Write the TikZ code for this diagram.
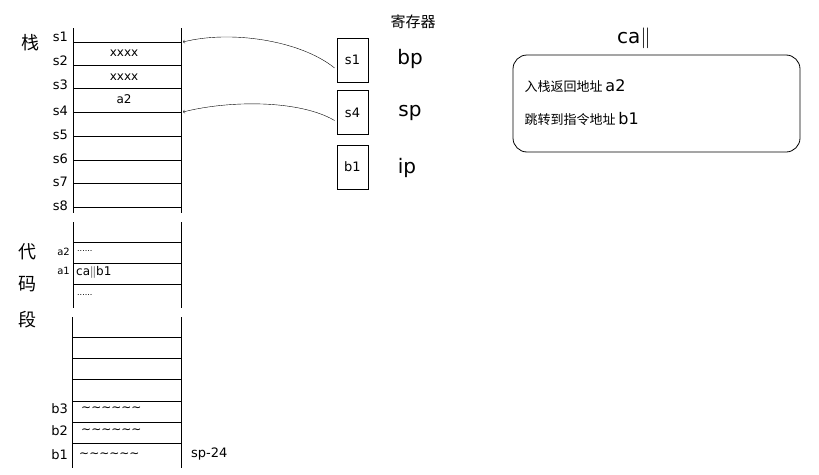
\documentclass[tikz,border=0pt]{standalone}
\usepackage{fontspec}
\setmainfont{DejaVu Sans}
\newfontfamily\cjk{Noto Sans CJK SC}
\begin{document}
\begin{tikzpicture}[x=1pt,y=-1pt,
  lab/.style={anchor=east,inner sep=1pt,font=\fontsize{13}{13}\selectfont},
  small/.style={anchor=east,inner sep=1pt,font=\fontsize{10}{10}\selectfont},
  cell/.style={inner sep=1pt,font=\fontsize{12}{12}\selectfont},
  reg/.style={draw,thick,minimum width=31pt,minimum height=44pt,font=\fontsize{13}{13}\selectfont},
  big/.style={font=\fontsize{20}{20}\selectfont},
  han/.style={font=\cjk\fontsize{18}{18}\selectfont},
  ln/.style={thick}]
\useasboundingbox (0,0) rectangle (819,474);
% stack
\draw[ln] (73,28) -- (73,213) (181,28) -- (181,213);
\foreach \y in {42,65,88,112,136,160,183,207} \draw[ln] (73,\y) -- (181,\y);
\foreach \n/\y in {1/37,2/61,3/85,4/111,5/135,6/159,7/182,8/206}
  \node[lab] (s\n) at (69,\y) {s\n};
\node[cell] (c2) at (124,53) {xxxx};
\node[cell] (c3) at (124,77) {xxxx};
\node[cell] (c4) at (124,99) {a2};
\node[han] (zhan) at (30,43) {栈};
% code segment
\draw[ln] (73,222) -- (73,308) (181,222) -- (181,308);
\foreach \y in {242,263,284} \draw[ln] (73,\y) -- (181,\y);
\node[small] (la2) at (71,252) {a2};
\node[small] (la1) at (71,271) {a1};
\node[cell,anchor=west,font=\fontsize{8}{8}\selectfont] (d1) at (76,251) {......};
\node[cell,anchor=west] (callb) at (75,272) {ca\raisebox{0pt}{\(\|\)}b1};
\node[cell,anchor=west,font=\fontsize{8}{8}\selectfont] (d2) at (76,295) {......};
\node[han] (dai) at (28,252) {代};
\node[han] (ma) at (28,284) {码};
\node[han] (duan) at (28,320) {段};
% lower
\draw[ln] (72,317) -- (72,468) (181,317) -- (181,468);
\foreach \y in {337,358,379,401,422,443} \draw[ln] (72,\y) -- (181,\y);
\node[lab] (b3) at (69,409) {b3};
\node[lab] (b2) at (69,431) {b2};
\node[lab] (b1) at (69,455) {b1};
\node[cell,anchor=west] (w3) at (80,409) {\textasciitilde\textasciitilde\textasciitilde\textasciitilde\textasciitilde\textasciitilde};
\node[cell,anchor=west] (w2) at (80,431) {\textasciitilde\textasciitilde\textasciitilde\textasciitilde\textasciitilde\textasciitilde};
\node[cell,anchor=west] (w1) at (78,455) {\textasciitilde\textasciitilde\textasciitilde\textasciitilde\textasciitilde\textasciitilde};
\node[lab,anchor=west] (sp24) at (190,454) {sp-24};
% registers
\node[han,font=\cjk\fontsize{15}{15}\selectfont] (jcq) at (413,22) {寄存器};
\node[reg] (r1) at (352.5,60) {s1};
\node[reg] (r2) at (352.5,112.5) {s4};
\node[reg] (r3) at (352.5,167) {b1};
\node[big] (bp) at (410,59) {bp};
\node[big] (sp) at (410,113) {sp};
\node[big] (ip) at (407,168) {ip};
\coordinate (t1) at (183,42);
\coordinate (t4) at (183,112);
\draw[->] (r1.west) ++(-2,8) .. controls (300,40) and (230,30) .. (t1);
\draw[->] (r2.west) ++(-2,8) .. controls (300,100) and (230,100) .. (t4);
% call
\node[big] (call) at (634,38) {ca\(\|\)};
\draw[thick,rounded corners=14pt] (513,55) rectangle (800,152);
\node[anchor=west,font=\cjk\fontsize{13}{13}\selectfont] (t1a) at (521,86) {入栈返回地址 {\fontspec{DejaVu Sans}\fontsize{16}{16}\selectfont a2}};
\node[anchor=west,font=\cjk\fontsize{13}{13}\selectfont] (t2a) at (521,119) {跳转到指令地址 {\fontspec{DejaVu Sans}\fontsize{16}{16}\selectfont b1}};
\end{tikzpicture}
\end{document}
